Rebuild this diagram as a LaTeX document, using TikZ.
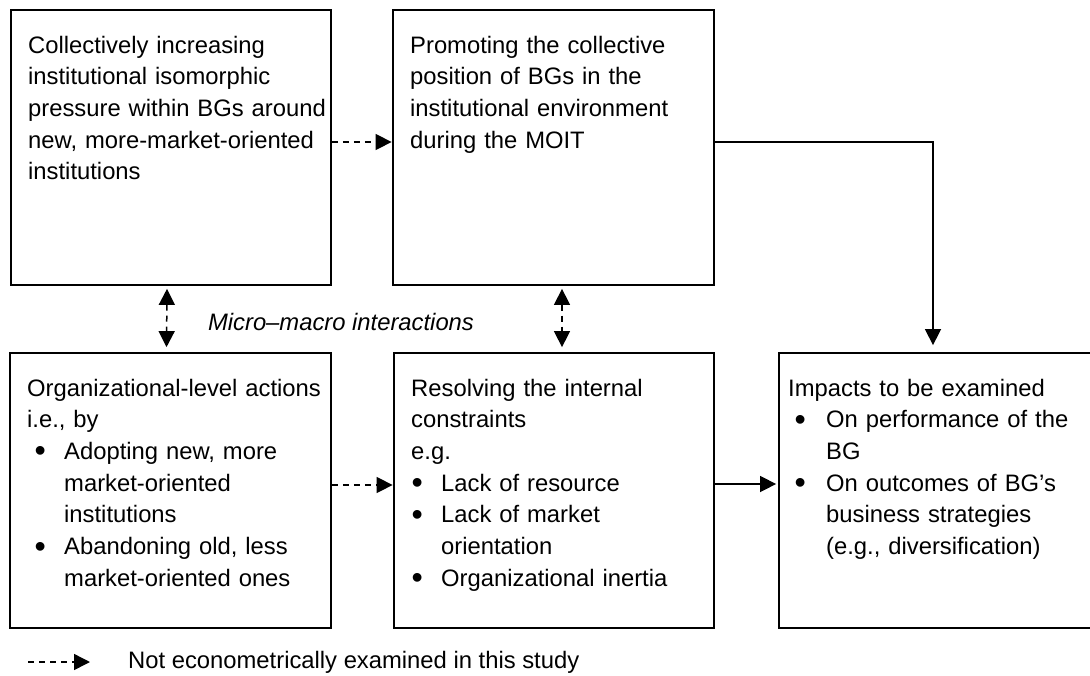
\documentclass[tikz,border=0pt]{standalone}
\usepackage{fontspec}
\setmainfont{Liberation Sans}
\usetikzlibrary{arrows.meta}
\newcommand{\bul}[2]{\makebox[#2][l]{\hspace*{#1}\hspace*{-1.5pt}\raisebox{-2.5pt}{\scalebox{1.35}{\textbullet}}}}
\begin{document}
\begin{tikzpicture}[x=1pt,y=-1pt,
  every node/.style={font=\fontsize{23.8}{31.7}\selectfont},
  box/.style={draw, line width=1.8pt, inner sep=0pt, minimum height=275pt},
  txt/.style={anchor=base west, inner sep=0pt, text width=420pt, align=left},
  tip/.style={-{Triangle[length=16pt,width=16pt]}},
  dasharrow/.style={tip, line width=1.5pt, dash pattern=on 6pt off 5pt},
  bidash/.style={{Triangle[length=16pt,width=16pt]}-{Triangle[length=16pt,width=16pt]}, line width=1.5pt, dash pattern=on 6pt off 5pt},
  solidarrow/.style={tip, line width=1.5pt}]
\useasboundingbox (0,0) rectangle (1090,675);
% boxes
\node[box, minimum width=320pt] (A) at (171,147.5) {};
\node[box, minimum width=321pt] (B) at (553.5,147.5) {};
\node[box, minimum width=321pt] (C) at (170.5,490.5) {};
\node[box, minimum width=320pt] (D) at (554,490.5) {};
\node[box, minimum width=317pt] (E) at (937.5,490.5) {};
% texts
\node[txt] (At) at (28,53) {Collectively increasing\\ institutional isomorphic\\ pressure within BGs around\\ new, more-market-oriented\\ institutions};
\node[txt] (Bt) at (410,53) {Promoting the collective\\ position of BGs in the\\ institutional environment\\ during the MOIT};
\node[txt] (Ct) at (27,396) {Organizational-level actions\\ i.e., by\\ \bul{9pt}{37pt}Adopting new, more\\ \hspace*{37pt}market-oriented\\ \hspace*{37pt}institutions\\ \bul{9pt}{37pt}Abandoning old, less\\ \hspace*{37pt}market-oriented ones};
\node[txt] (Dt) at (411,396) {Resolving the internal\\ constraints\\ e.g.\\ \bul{2pt}{30pt}Lack of resource\\ \bul{2pt}{30pt}Lack of market\\ \hspace*{30pt}orientation\\ \bul{2pt}{30pt}Organizational inertia};
\node[txt] (Et) at (788,396) {Impacts to be examined\\ \bul{8pt}{38pt}On performance of the\\ \hspace*{38pt}BG\\ \bul{8pt}{38pt}On outcomes of BG’s\\ \hspace*{38pt}business strategies\\ \hspace*{38pt}(e.g., diversification)};
\node (mm) at (341,322) {\itshape Micro–macro interactions};
% connectors
\draw[dasharrow, shorten >=0.5pt] ([yshift=5.5pt]A.east) -- ([yshift=5.5pt]B.west);
\draw[solidarrow, shorten >=7pt] ([yshift=5.5pt]B.east) -| ([xshift=-4.5pt]E.north);
\draw[dasharrow, shorten >=0.5pt] ([yshift=5.5pt]C.east) -- ([yshift=5.5pt]D.west);
\draw[solidarrow, shorten >=2pt] ([yshift=6.5pt]D.east) -- ([yshift=6.5pt]E.west);
\draw[bidash, shorten <=3pt, shorten >=5pt] ([xshift=-4pt]A.south) -- ([xshift=-4pt]C.north);
\draw[bidash, shorten <=3pt, shorten >=5pt] ([xshift=8.5pt]B.south) -- ([xshift=8pt]D.north);
% legend
\coordinate (l1) at (28,662);
\coordinate (l2) at (90,662);
\draw[dasharrow] (l1) -- (l2);
\node[anchor=base west, inner sep=0pt] (leg) at (128,668) {Not econometrically examined in this study};
\end{tikzpicture}
\end{document}
